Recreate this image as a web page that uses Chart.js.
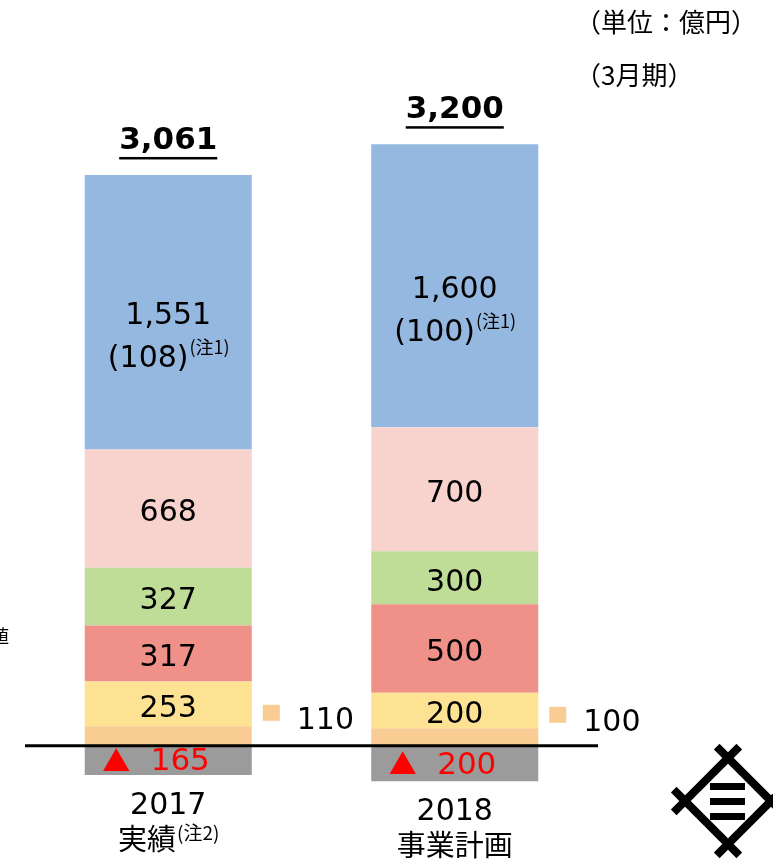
<!DOCTYPE html>
<html>
<head>
<meta charset="utf-8">
<script src="https://cdn.jsdelivr.net/npm/chart.js@4/dist/chart.umd.min.js"></script>
<style>
  body { margin: 0; background: #fff; }
  canvas { display: block; }
</style>
</head>
<body>
<canvas id="chart" width="773" height="859"></canvas>
<script>
// data (億円, 3月期)
const years = ['2017', '2018'];
const yearNotes = ['実績', '事業計画'];
const yearSup = ['(注2)', ''];
const negative = [-165, -200];
const orange = [110, 100];
const yellow = [253, 200];
const red = [317, 500];
const green = [327, 300];
const pink = [668, 700];
const blue = [1551, 1600];
const blueSub = ['(108)', '(100)'];
const totals = [3061, 3200];

const NUM = '"DejaVu Sans", Verdana, sans-serif';
const JP = '"Noto Sans CJK JP", "Noto Sans", sans-serif';

function fmt(v) { return Math.abs(v).toLocaleString('en-US'); }

const series = [
  { label: 'negative', data: negative, color: '#9b9b9b' },
  { label: 'orange', data: orange, color: '#f8cc92' },
  { label: 'yellow', data: yellow, color: '#fde293' },
  { label: 'red', data: red, color: '#f09189' },
  { label: 'green', data: green, color: '#c0dd97' },
  { label: 'pink', data: pink, color: '#f8d3ce' },
  { label: 'blue', data: blue, color: '#95b8e0' }
];

// draws "main" then a small superscript, centered on cx as one run
function textWithSup(ctx, main, mainFont, sup, supFont, cx, y, supDy) {
  ctx.font = mainFont;
  const mw = ctx.measureText(main).width;
  ctx.font = supFont;
  const sw = sup ? ctx.measureText(sup).width : 0;
  const x = cx - (mw + sw) / 2;
  ctx.textAlign = 'left';
  ctx.font = mainFont;
  ctx.fillText(main, x, y);
  if (sup) {
    ctx.font = supFont;
    ctx.fillText(sup, x + mw + 1, y + supDy);
  }
  ctx.textAlign = 'center';
}

const labelPlugin = {
  id: 'labels',
  afterDatasetsDraw(chart) {
    const ctx = chart.ctx;
    const area = chart.chartArea;
    const yScale = chart.scales.y;
    const zeroY = yScale.getPixelForValue(0);
    ctx.save();
    ctx.textBaseline = 'middle';

    years.forEach((yr, j) => {
      ctx.textAlign = 'center';
      ctx.fillStyle = '#000';
      const get = i => chart.getDatasetMeta(i).data[j];
      const neg = get(0), top = get(6);
      const cx = top.x;
      const right = cx + top.width / 2;

      // values in the segments
      [2, 3, 4, 5].forEach(i => {
        const b = get(i);
        ctx.font = '30px ' + NUM;
        ctx.fillText(fmt(series[i].data[j]), cx, (b.y + b.base) / 2 + 5);
      });

      // blue with note
      const bm = (top.y + top.base) / 2;
      ctx.font = '30px ' + NUM;
      ctx.fillText(fmt(blue[j]), cx, bm + 4);
      textWithSup(ctx, blueSub[j], '30px ' + NUM, '(注1)', '18px ' + JP, cx, bm + 47, -12);

      // negative
      const nm = (neg.y + neg.base) / 2;
      ctx.fillStyle = '#ff0000';
      ctx.font = '28px ' + JP;
      ctx.fillText('▲', cx - 52, nm + 1);
      ctx.font = '31px ' + NUM;
      ctx.fillText(fmt(negative[j]), cx + 12, nm + 2);

      // orange callout
      ctx.fillStyle = '#f8cc92';
      ctx.fillRect(right + 11, zeroY - 41 + j * 2, 17, 16);
      ctx.fillStyle = '#000';
      ctx.textAlign = 'left';
      ctx.font = '30px ' + NUM;
      ctx.fillText(fmt(orange[j]), right + 45, zeroY - 25 + j * 2);

      // total
      ctx.textAlign = 'center';
      ctx.font = 'bold 31px ' + NUM;
      const tt = fmt(totals[j]);
      const ty = top.y - 34;
      ctx.fillText(tt, cx, ty);
      const tw = ctx.measureText(tt).width;
      ctx.fillRect(cx - tw / 2, ty + 16, tw, 2.5);

      // category labels
      const by = neg.y;
      ctx.font = '30px ' + NUM;
      ctx.fillText(yr, cx, by + 31);
      textWithSup(ctx, yearNotes[j], '29px ' + JP, yearSup[j], '19px ' + JP, cx, by + 64, -6);
    });

    // zero line
    ctx.strokeStyle = '#000';
    ctx.lineWidth = 3;
    ctx.beginPath();
    ctx.moveTo(area.left, zeroY);
    ctx.lineTo(area.right, zeroY);
    ctx.stroke();

    // unit notes
    ctx.fillStyle = '#000';
    ctx.textAlign = 'left';
    ctx.font = '26px ' + JP;
    ctx.fillText('（単位：億円）', 575, 22);
    ctx.fillText('（3月期）', 575, 75);
    ctx.font = '18px ' + JP;
    ctx.fillText('値', -9, 636);

    // logo
    const lx = 728, ly = 801, r = 43, ext = 16;
    ctx.lineWidth = 8;
    ctx.lineCap = 'butt';
    const pts = [[lx, ly - r], [lx + r, ly], [lx, ly + r], [lx - r, ly]];
    for (let k = 0; k < 4; k++) {
      const a = pts[k], b = pts[(k + 1) % 4];
      const dx = b[0] - a[0], dy = b[1] - a[1];
      const len = Math.hypot(dx, dy);
      const ux = dx / len, uy = dy / len;
      ctx.beginPath();
      ctx.moveTo(a[0] - ux * ext, a[1] - uy * ext);
      ctx.lineTo(b[0] + ux * ext, b[1] + uy * ext);
      ctx.stroke();
    }
    [-15, 0, 15].forEach(d => ctx.fillRect(lx - 18, ly + d - 3, 35, 7));
    ctx.restore();
  }
};

new Chart(document.getElementById('chart'), {
  type: 'bar',
  data: {
    labels: years,
    datasets: series.map(s => ({
      label: s.label,
      data: s.data,
      backgroundColor: s.color,
      borderWidth: 0,
      categoryPercentage: 1,
      barPercentage: 0.583
    }))
  },
  options: {
    responsive: false,
    animation: false,
    layout: { padding: { top: 38, bottom: 7, left: 25, right: 175 } },
    plugins: { legend: { display: false }, tooltip: { enabled: false } },
    scales: {
      x: { stacked: true, display: false },
      y: { stacked: true, display: false, min: -600, max: 4000 }
    }
  },
  plugins: [labelPlugin]
});
</script>
</body>
</html>
